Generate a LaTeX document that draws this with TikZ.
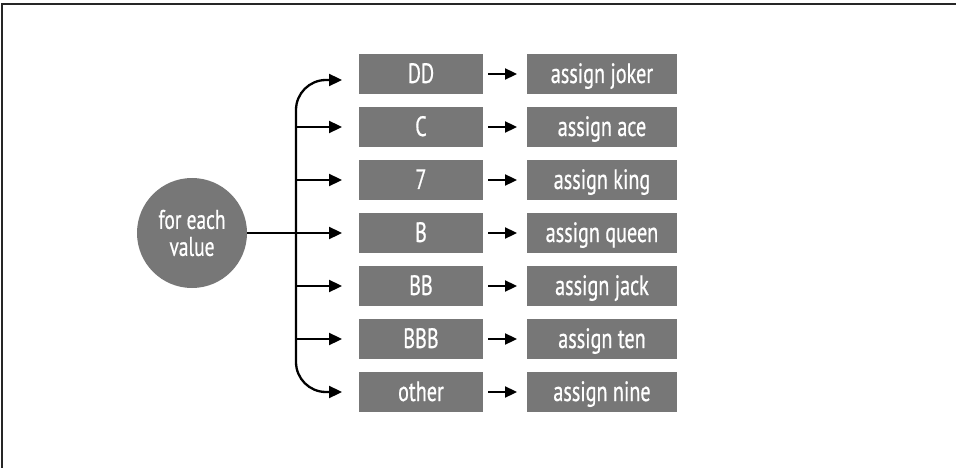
\documentclass[tikz,border=0pt]{standalone}
\usepackage{fontspec}
\usepackage{xcolor}
\usepackage{tikz}
\usetikzlibrary{arrows.meta, positioning, calc}
\newfontfamily\narrowfont{PT Sans}[FakeStretch=0.72, FakeBold=0.6]
\definecolor{boxgray}{HTML}{777777}

\begin{document}
\begin{tikzpicture}[
    x=1pt, y=-1pt,
    font=\narrowfont\fontsize{28}{30}\selectfont,
    line width=2.3pt,
    >={Triangle[length=13pt, width=12pt]},
    valbox/.style={rectangle, fill=boxgray, text=white, minimum width=124pt, minimum height=40pt,
                   text height=18pt, text depth=0pt, inner sep=0pt, outer sep=0pt},
    actbox/.style={valbox, minimum width=150pt},
    arrow/.style={->},
    shortarrow/.style={-{Triangle[length=12pt, width=11pt]}},
]
    \useasboundingbox (0,0) rectangle (956,468);
    % frame
    \draw[line width=1.2pt, black!85] (2,468) -- (2,4) -- (956,4);

    % values
    \node[valbox] (dd) at (421,74) {DD};
    \node[valbox, below=13pt of dd] (c) {C};
    \node[valbox, below=13pt of c] (seven) {7};
    \node[valbox, below=13pt of seven] (b) {B};
    \node[valbox, below=13pt of b] (bb) {BB};
    \node[valbox, below=13pt of bb] (bbb) {BBB};
    \node[valbox, below=13pt of bbb] (other) {other};

    % start
    \node[circle, fill=boxgray, text=white, minimum size=110pt, inner sep=0pt, outer sep=0pt, align=center,
          font=\narrowfont\fontsize{27}{27}\selectfont, left=112pt of b] (value) {for each\\value};

    % actions
    \node[actbox, right=44pt of dd] (joker) {assign joker};
    \node[actbox, right=44pt of c] (ace) {assign ace};
    \node[actbox, right=44pt of seven] (king) {assign king};
    \node[actbox, right=44pt of b] (queen) {assign queen};
    \node[actbox, right=44pt of bb] (jack) {assign jack};
    \node[actbox, right=44pt of bbb] (ten) {assign ten};
    \node[actbox, right=44pt of other] (nine) {assign nine};

    % bus
    \coordinate (bus) at ([xshift=-63pt]b.west);
    \draw[<->, rounded corners=30pt] ([xshift=-17pt, yshift=-6pt]dd.west) -| (bus) |- ([xshift=-17pt]other.west);
    \draw[arrow] (bus |- c.west) -- ([xshift=-17pt]c.west);
    \draw[arrow] (bus |- seven.west) -- ([xshift=-17pt]seven.west);
    \draw[arrow] (value) -- ([xshift=-17pt]b.west);
    \draw[arrow] (bus |- bb.west) -- ([xshift=-17pt]bb.west);
    \draw[arrow] (bus |- bbb.west) -- ([xshift=-17pt]bbb.west);

    % value -> action
    \draw[shortarrow] ([xshift=5pt]dd.east) -- ([xshift=-10pt]joker.west);
    \draw[shortarrow] ([xshift=5pt]c.east) -- ([xshift=-10pt]ace.west);
    \draw[shortarrow] ([xshift=5pt]seven.east) -- ([xshift=-10pt]king.west);
    \draw[shortarrow] ([xshift=5pt]b.east) -- ([xshift=-10pt]queen.west);
    \draw[shortarrow] ([xshift=5pt]bb.east) -- ([xshift=-10pt]jack.west);
    \draw[shortarrow] ([xshift=5pt]bbb.east) -- ([xshift=-10pt]ten.west);
    \draw[shortarrow] ([xshift=5pt]other.east) -- ([xshift=-10pt]nine.west);
\end{tikzpicture}
\end{document}
